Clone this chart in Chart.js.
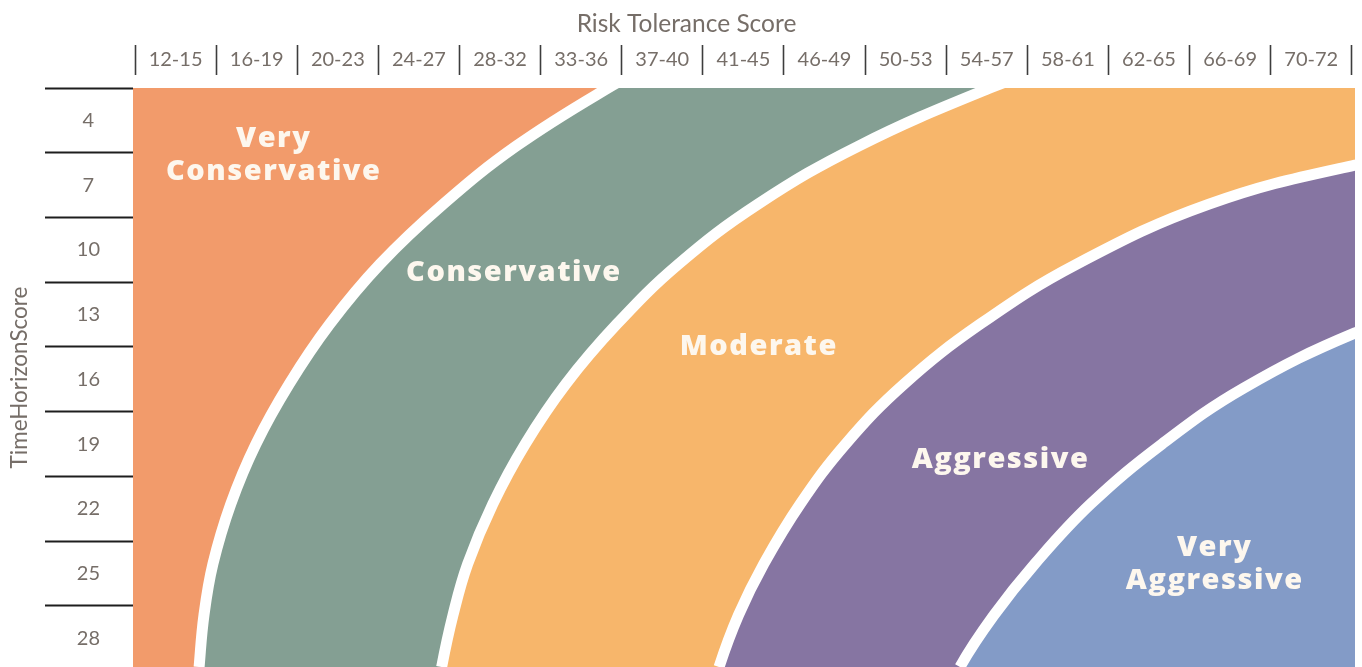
<!DOCTYPE html>
<html lang="en">
<head>
<meta charset="UTF-8">
<meta name="viewport" content="width=device-width, initial-scale=1.0">
<title>Risk profile</title>
<script src="https://cdn.jsdelivr.net/npm/chart.js@4.4.1/dist/chart.umd.min.js"></script>
<style>
  html, body { margin: 0; padding: 0; background: #fff; }
  #wrap { width: 1362px; height: 667px; }
</style>
</head>
<body>
<div id="wrap"><canvas id="profileChart"></canvas></div>
<script>
  // axis categories
  const riskLabels = ['12-15', '16-19', '20-23', '24-27', '28-32', '33-36', '37-40', '41-45',
                      '46-49', '50-53', '54-57', '58-61', '62-65', '66-69', '70-72'];
  const horizonTicks = [4, 7, 10, 13, 16, 19, 22, 25, 28];
  const bandNames = [['Very', 'Conservative'], ['Conservative'], ['Moderate'], ['Aggressive'], ['Very', 'Aggressive']];

  // band edges: [risk column (0 = left of 12-15), time horizon score]
  const edgeConservative = [[6.48, 1.20], [5.83, 2.50], [4.70, 5.19], [3.80, 7.88], [3.02, 10.66], [2.40, 13.44],
                            [1.90, 16.22], [1.49, 19.00], [1.18, 21.78], [0.96, 24.56], [0.85, 26.92], [0.79, 29.33], [0.76, 30.86]];
  const edgeModerate = [[11.52, 1.20], [10.54, 2.50], [8.92, 5.19], [7.68, 7.88], [6.70, 10.66], [5.94, 13.44],
                        [5.31, 16.22], [4.81, 19.00], [4.41, 21.78], [4.10, 24.56], [3.92, 26.92], [3.78, 29.33], [3.72, 30.86]];
  const edgeAggressive = [[16.82, 4.91], [15.04, 6.07], [13.24, 7.88], [11.61, 10.66], [10.42, 13.44],
                          [9.48, 16.22], [8.76, 19.00], [8.20, 21.78], [7.75, 24.56], [7.44, 26.92], [7.20, 29.33], [7.10, 30.86]];
  const edgeVeryAggressive = [[16.26, 12.32], [15.04, 13.85], [13.67, 16.40], [12.66, 19.00], [11.78, 21.78],
                              [11.09, 24.56], [10.59, 26.92], [10.17, 29.33], [10.01, 30.86]];

  // where the band names sit, same units as above
  const nameAnchors = [[1.71, 5.63], [4.67, 11.07], [7.69, 14.50], [10.67, 19.74], [13.31, 24.58]];

  const textColor = '#766e68';
  const bandColors = ['#f29b6b', '#849f93', '#f7b66b', '#8675a2', '#839bc7'];

  const toPoints = (arr) => arr.map(([x, y]) => ({x: x, y: y}));

  function edgeDataset(label, arr, color, order) {
    return {
      label: label,
      data: toPoints(arr),
      borderColor: '#ffffff',
      borderWidth: 11,
      backgroundColor: color,
      fill: {value: 20},
      pointRadius: 0,
      tension: 0.4,
      capBezierPoints: false,
      order: order
    };
  }

  const plotBackground = {
    id: 'plotBackground',
    beforeDatasetsDraw(chart) {
      const {ctx, chartArea} = chart;
      ctx.save();
      ctx.fillStyle = bandColors[0];
      ctx.fillRect(chartArea.left, chartArea.top, chartArea.right - chartArea.left, chartArea.bottom - chartArea.top);
      ctx.restore();
    }
  };

  const bandText = {
    id: 'bandText',
    afterDatasetsDraw(chart) {
      const {ctx, scales} = chart;
      ctx.save();
      ctx.fillStyle = '#fdf7ee';
      ctx.font = '800 29px "Open Sans"';
      ctx.textAlign = 'center';
      ctx.textBaseline = 'middle';
      ctx.letterSpacing = '1.5px';
      bandNames.forEach((lines, i) => {
        const cx = scales.x.getPixelForValue(nameAnchors[i][0]);
        const cy = scales.y.getPixelForValue(nameAnchors[i][1]);
        const top = cy - (lines.length - 1) * 33 / 2;
        lines.forEach((line, j) => ctx.fillText(line, cx, top + j * 33));
      });
      ctx.restore();
    }
  };

  new Chart(document.getElementById('profileChart'), {
    type: 'line',
    data: {
      datasets: [
        edgeDataset('Conservative', edgeConservative, bandColors[1], 4),
        edgeDataset('Moderate', edgeModerate, bandColors[2], 3),
        edgeDataset('Aggressive', edgeAggressive, bandColors[3], 2),
        edgeDataset('Very Aggressive', edgeVeryAggressive, bandColors[4], 1)
      ]
    },
    options: {
      indexAxis: 'y',
      responsive: true,
      maintainAspectRatio: false,
      animation: false,
      events: [],
      layout: {padding: {top: 0, right: 7, bottom: 0, left: 18}},
      plugins: {
        legend: {display: false},
        tooltip: {enabled: false},
        title: {
          display: true,
          text: 'Risk Tolerance Score',
          color: textColor,
          font: {family: 'Lato', size: 24.5, weight: 'normal'},
          padding: {top: 9, bottom: 0}
        }
      },
      scales: {
        x: {
          type: 'linear',
          position: 'top',
          min: -0.025,
          max: 15.04,
          afterFit: (scale) => { scale.height = 49.6; },
          afterBuildTicks: (scale) => { scale.ticks = riskLabels.map((_, i) => ({value: i + 0.5})); },
          border: {display: false},
          grid: {
            offset: true,
            drawOnChartArea: false,
            tickLength: 43,
            tickWidth: 1.6,
            tickColor: '#3d3d3d',
            tickBorderDash: [30, 200]
          },
          ticks: {
            autoSkip: false,
            maxRotation: 0,
            minRotation: 0,
            padding: -27,
            color: textColor,
            font: {family: 'Lato', size: 20},
            callback: (value, index) => riskLabels[index]
          }
        },
        y: {
          type: 'linear',
          position: 'left',
          reverse: true,
          min: 2.5,
          max: 29.33,
          afterFit: (scale) => { scale.width = 115; },
          afterBuildTicks: (scale) => { scale.ticks = horizonTicks.map(v => ({value: v})); },
          border: {display: false},
          grid: {
            offset: true,
            drawOnChartArea: false,
            tickLength: 88,
            tickWidth: 2,
            tickColor: '#1e1e1e'
          },
          ticks: {
            crossAlign: 'center',
            padding: -55,
            color: textColor,
            font: {family: 'Lato', size: 20},
            callback: (value) => String(value)
          },
          title: {
            display: true,
            text: 'TimeHorizonScore',
            color: textColor,
            font: {family: 'Lato', size: 22.5, weight: 'normal'},
            padding: {top: -11.5, bottom: 0}
          }
        }
      }
    },
    plugins: [plotBackground, bandText]
  });
</script>
</body>
</html>
